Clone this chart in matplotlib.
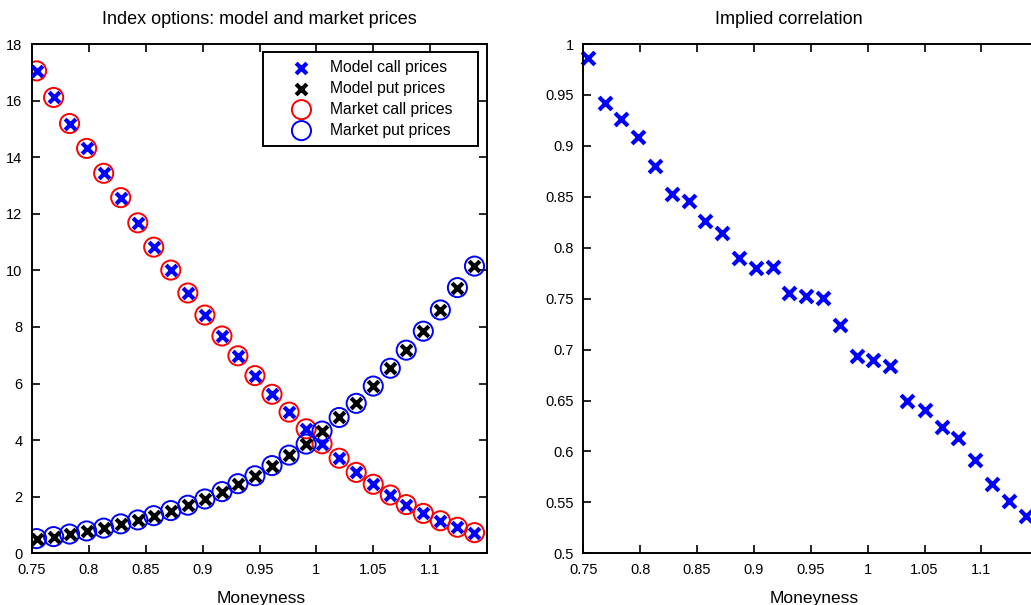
import numpy as np
import matplotlib.pyplot as plt

plt.rcParams['font.family'] = ['Liberation Sans', 'DejaVu Sans']

# moneyness grid
moneyness = [0.754, 0.769, 0.783, 0.798, 0.813, 0.828, 0.843, 0.857, 0.872,
             0.887, 0.902, 0.917, 0.931, 0.946, 0.961, 0.976, 0.991, 1.005,
             1.020, 1.035, 1.050, 1.065, 1.079, 1.094, 1.109, 1.124, 1.139]

model_call = [17.05, 16.11, 15.19, 14.31, 13.43, 12.57, 11.68, 10.82, 10.01,
              9.20, 8.42, 7.68, 6.98, 6.28, 5.62, 4.99, 4.40, 3.87,
              3.36, 2.86, 2.44, 2.06, 1.72, 1.41, 1.15, 0.92, 0.73]
model_put = [0.52, 0.59, 0.68, 0.79, 0.89, 1.04, 1.18, 1.33, 1.51,
             1.70, 1.92, 2.18, 2.46, 2.74, 3.10, 3.47, 3.86, 4.32,
             4.80, 5.30, 5.91, 6.54, 7.18, 7.85, 8.60, 9.39, 10.15]
market_call = [17.05, 16.11, 15.19, 14.31, 13.43, 12.57, 11.68, 10.82, 10.01,
               9.20, 8.42, 7.68, 6.98, 6.28, 5.62, 4.99, 4.40, 3.87,
               3.36, 2.86, 2.44, 2.06, 1.72, 1.41, 1.15, 0.92, 0.73]
market_put = [0.52, 0.59, 0.68, 0.79, 0.89, 1.04, 1.18, 1.33, 1.51,
              1.70, 1.92, 2.18, 2.46, 2.74, 3.10, 3.47, 3.86, 4.32,
              4.80, 5.30, 5.91, 6.54, 7.18, 7.85, 8.60, 9.39, 10.15]

implied_corr = [0.986, 0.942, 0.926, 0.909, 0.880, 0.853, 0.846, 0.826, 0.814,
                0.790, 0.780, 0.781, 0.756, 0.753, 0.751, 0.724, 0.694, 0.690,
                0.684, 0.650, 0.641, 0.624, 0.613, 0.592, 0.568, 0.551, 0.537]

xticks = [0.75, 0.8, 0.85, 0.9, 0.95, 1, 1.05, 1.1]
xticklabels = ['0.75', '0.8', '0.85', '0.9', '0.95', '1', '1.05', '1.1']


def style_axes(ax, right=True):
    for s in ax.spines.values():
        s.set_linewidth(1.4)
    ax.tick_params(direction='in', top=True, right=right, length=6, width=1.2,
                   labelsize=10.5, pad=7)
    ax.set_xticks(xticks)
    ax.set_xticklabels(xticklabels)


fig = plt.figure(figsize=(10.31, 6.05), dpi=100)

ax1 = fig.add_axes([32 / 1031, 51.7 / 605, 455 / 1031, 509.3 / 605])
ax1.scatter(moneyness, market_call, s=190, facecolors='none', edgecolors='red',
            linewidths=1.4, label='Market call prices', zorder=2)
ax1.scatter(moneyness, market_put, s=190, facecolors='none', edgecolors='blue',
            linewidths=1.4, label='Market put prices', zorder=2)
ax1.scatter(moneyness, model_call, s=60, marker='x', color='blue',
            linewidths=3, label='Model call prices', zorder=3)
ax1.scatter(moneyness, model_put, s=60, marker='x', color='black',
            linewidths=3, label='Model put prices', zorder=3)
ax1.set_xlim(0.75, 1.15)
ax1.set_ylim(0, 18)
ax1.set_yticks(range(0, 19, 2))
style_axes(ax1)

h, l = ax1.get_legend_handles_labels()
order = [2, 3, 0, 1]
leg = ax1.legend([h[i] for i in order], [l[i] for i in order],
                 loc='upper left', bbox_to_anchor=(0.5077, 0.7843, 0.4725, 0.2),
                 mode='expand', fancybox=False, edgecolor='black', framealpha=1,
                 fontsize=11.3, handletextpad=-0.1, labelspacing=0.38,
                 borderpad=0.5, handlelength=3.9, borderaxespad=0)
leg.get_frame().set_linewidth(1.4)

ax2 = fig.add_axes([583.3 / 1031, 51.7 / 605, 455 / 1031, 509.3 / 605])
ax2.scatter(moneyness, implied_corr, s=85, marker='x', color='blue',
            linewidths=3, clip_on=False)
ax2.set_xlim(0.75, 1.15)
ax2.set_ylim(0.5, 1)
ax2.set_yticks([0.5, 0.55, 0.6, 0.65, 0.7, 0.75, 0.8, 0.85, 0.9, 0.95, 1])
ax2.set_yticklabels(['0.5', '0.55', '0.6', '0.65', '0.7', '0.75', '0.8',
                     '0.85', '0.9', '0.95', '1'])
style_axes(ax2, right=False)

fig.text(259 / 1031, 1 - 20 / 605, 'Index options: model and market prices',
         ha='center', va='center', fontsize=13)
fig.text(789 / 1031, 1 - 20 / 605, 'Implied correlation',
         ha='center', va='center', fontsize=13)
fig.text(261 / 1031, 1 - 598 / 605, 'Moneyness', ha='center', va='center',
         fontsize=12.5)
fig.text(814 / 1031, 1 - 598 / 605, 'Moneyness', ha='center', va='center',
         fontsize=12.5)

fig.savefig('out.png', dpi=100)
